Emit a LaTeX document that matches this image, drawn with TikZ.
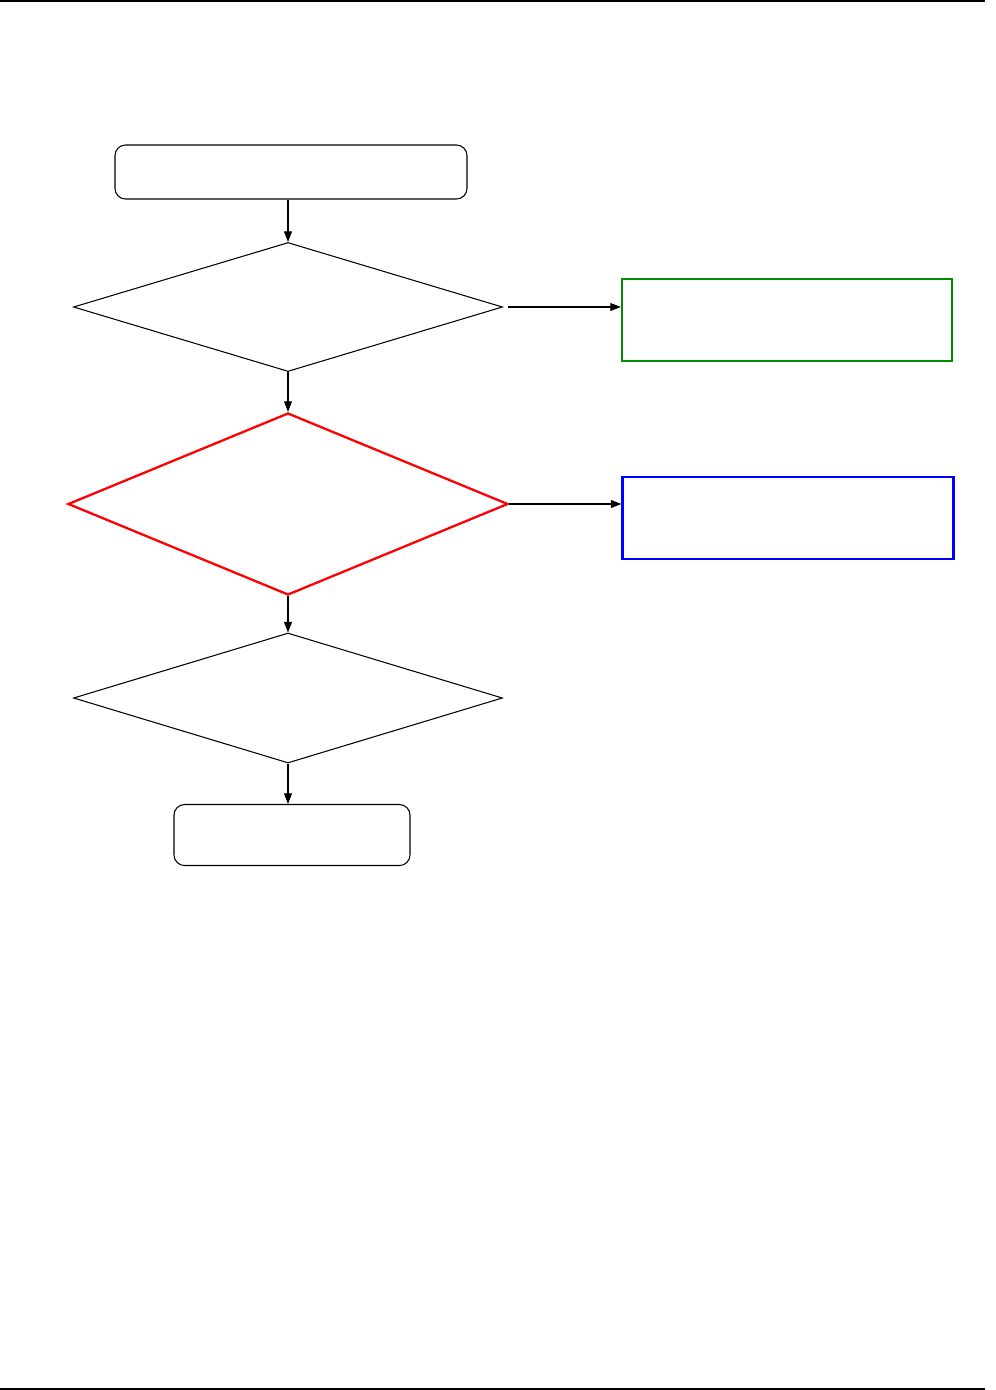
\documentclass[tikz,border=0pt]{standalone}
\usetikzlibrary{shapes.geometric,arrows.meta}
\definecolor{okgreen}{RGB}{0,140,0}
\begin{document}
\begin{tikzpicture}[x=0.02cm, y=-0.02cm]
  \tikzset{
    flow/.style={-{Triangle[length=6pt, width=4.5pt]}, line width=0.6pt},
    term_box/.style={draw, rounded corners=6pt, line width=0.6pt, inner sep=0pt},
    check_dia/.style={draw, diamond, inner sep=0pt, line width=0.6pt},
    out_box/.style={draw, rectangle, inner sep=0pt, line width=1.3pt},
  }
  \useasboundingbox (0,0) rectangle (995,1390);

  % page rules
  \draw[line width=1pt] (0,1) -- (985,1);
  \draw[line width=1pt] (0,1389) -- (985,1389);

  % main column
  \node[term_box, minimum width=352*0.02cm, minimum height=54*0.02cm] (start) at (291,172) {};
  \node[check_dia, minimum width=429*0.02cm, minimum height=129*0.02cm] (check_a) at (288,307) {};
  \node[check_dia, red, line width=1.3pt, minimum width=440*0.02cm, minimum height=182*0.02cm] (check_b) at (288,504) {};
  \node[check_dia, minimum width=429*0.02cm, minimum height=130*0.02cm] (check_c) at (288,698) {};
  \node[term_box, minimum width=236*0.02cm, minimum height=61*0.02cm] (stop) at (292,835) {};

  % side results
  \node[out_box, okgreen, minimum width=330*0.02cm, minimum height=82*0.02cm] (res_a) at (787,320) {};
  \node[out_box, blue, minimum width=331*0.02cm, minimum height=82*0.02cm] (res_b) at (788,518) {};
  \coordinate (res_a_in) at (res_a.west |- check_a.east);
  \coordinate (res_b_in) at (res_b.west |- check_b.east);

  % connectors
  \draw[flow] (start.south -| check_a.north) -- (check_a.north);
  \draw[flow] (check_a.south) -- (check_b.north);
  \draw[flow] (check_b.south) -- (check_c.north);
  \draw[flow] (check_c.south) -- (check_c.south |- stop.north);
  \draw[flow, shorten <=5*0.02cm] (check_a.east) -- (res_a_in);
  \draw[flow] (check_b.east) -- (res_b_in);
\end{tikzpicture}
\end{document}
